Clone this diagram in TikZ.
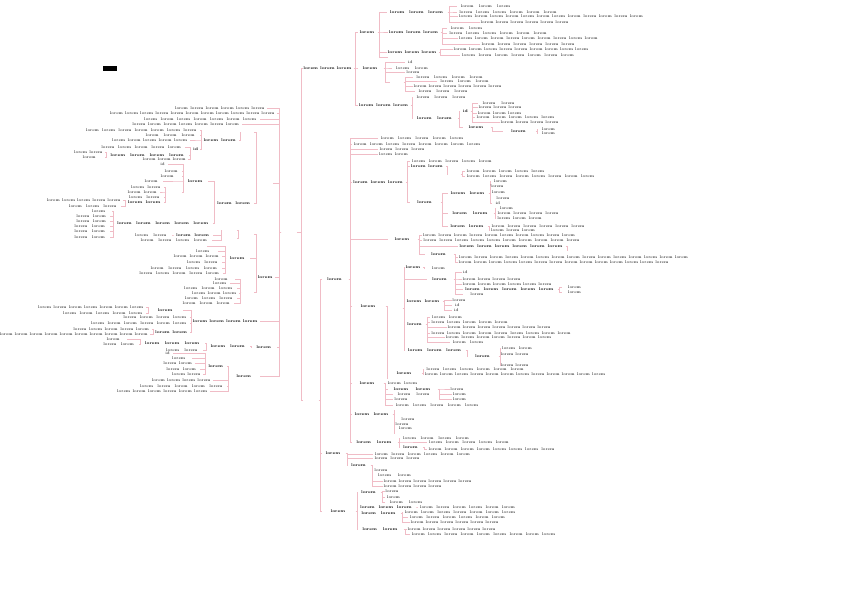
\documentclass[tikz,border=0pt]{standalone}
\usepackage{fontspec}
\definecolor{conc}{RGB}{240,188,198}
\newcounter{nc}
\newcommand\fillertext[1]{\ifdim#1pt<12pt\hbox to #1pt{\hss id\hss}\else\hbox to #1pt{\xleaders\hbox{lorem\ }\hfill}\fi}
\tikzset{
  tx/.style={inner sep=0.2pt, font=\fontsize{3.9}{4}\selectfont, text=black},
  lb/.style={inner sep=0.2pt, font=\fontsize{3.9}{4}\selectfont\bfseries, text=black},
  con/.style={draw=conc, line width=0.3pt}
}
\newcommand\lfR[4]{\stepcounter{nc}\edef\curnn{n\arabic{nc}}\node[tx,anchor=west] (\curnn) at (#2,-#3) {\fillertext{#4}};\draw[con] (#1.east) -- ++(1.5,0) |- (\curnn.west);}
\newcommand\lfL[4]{\stepcounter{nc}\edef\curnn{n\arabic{nc}}\node[tx,anchor=east] (\curnn) at (#2,-#3) {\fillertext{#4}};\draw[con] (#1.west) -- ++(-1.5,0) |- (\curnn.east);}
\newcommand\lbR[5]{\node[lb,anchor=west] (#1) at (#3,-#4) {\fillertext{#5}};\draw[con] (#2.east) -- ++(1.5,0) |- (#1.west);}
\newcommand\lbL[5]{\node[lb,anchor=east] (#1) at (#3,-#4) {\fillertext{#5}};\draw[con] (#2.west) -- ++(-1.5,0) |- (#1.east);}
\begin{document}
\begin{tikzpicture}[x=1pt,y=1pt]
\useasboundingbox (0,0) rectangle (848,-599);
\node[fill=black,inner sep=0pt,minimum width=14pt,minimum height=5pt] (ttl) at (110,-68.5) {};
\node[lb,anchor=west] (R) at (281,-232) {\fillertext{15}};
% ---------- right side ----------
\node[lb,anchor=west] (T1) at (303,-68) {\fillertext{50}};
\node[lb,anchor=west] (LN) at (303,-400) {\fillertext{15}};
\draw[con] (R.east) -- ++(4,0) |- (T1.west);
\draw[con] (R.east) -- ++(4,0) |- (LN.west);
\lbR{S1}{T1}{358}{32}{19}
\lbR{S2}{T1}{358}{68}{25}
\lbR{S3}{T1}{358}{105}{52}
\lbR{SA}{S1}{387}{12}{60}
\lbR{SB}{S1}{388}{32}{52}
\lbR{SC}{S1}{387}{52}{51}
\lfR{S1}{388}{57}{12}
\lfR{SA}{457}{6}{58}
\lfR{SA}{457}{12}{103}
\lfR{SA}{458}{16}{187}
\lfR{SA}{480}{22}{90}
\lfR{SB}{447}{28}{40}
\lfR{SB}{447}{33}{103}
\lfR{SB}{458}{38}{142}
\lfR{SB}{480}{44}{97}
\lfR{SC}{453}{49}{137}
\lfR{SC}{460}{55}{117}
\lfR{S2}{405}{62}{10}
\lfR{S2}{392}{68}{41}
\lfR{S2}{405}{72}{17}
\lbR{IX}{S2}{390}{82}{13}
\lfR{IX}{413}{77}{74}
\lfR{IX}{437}{81}{56}
\lfR{IX}{413}{86}{90}
\lfR{IX}{415}{91}{57}
\lfR{S3}{413}{97}{57}
\lbR{W}{S3}{413}{118}{44}
\lbR{X}{W}{460}{111}{10}
\lbR{Y}{W}{463}{127}{27}
\lfR{X}{478}{103}{42}
\lfR{X}{478}{107}{45}
\lfR{X}{477}{113}{46}
\lfR{X}{475}{117}{82}
\lfR{X}{500}{122}{60}
\lbR{Z}{Y}{503}{131}{32}
\lfR{Z}{538}{129}{22}
\lfR{Z}{538}{133}{22}
\lbR{M}{LN}{322}{279}{26}
\lbR{G1}{LN}{322}{453}{23}
\lbR{G2}{LN}{322}{511}{33}
\lfR{M}{378}{138}{89}
\lfR{M}{352}{144}{131}
\lfR{M}{378}{149}{49}
\lfR{M}{378}{154}{32}
\lbR{AU}{M}{352}{182}{53}
\lbR{OP}{M}{388}{239}{29}
\lbR{TR}{M}{352}{306}{33}
\lbR{LB}{M}{352}{383}{31}
\lbR{PR}{M}{352}{414}{40}
\lbR{PQ}{M}{352}{442}{45}
\lfR{AU}{410}{161}{85}
\lbR{A2}{AU}{410}{166}{35}
\lbR{IN}{AU}{410}{202}{30}
\lbR{PX}{A2}{448}{174}{12}
\lfR{PX}{465}{171}{82}
\lfR{PX}{465}{176}{132}
\lbR{I1}{IN}{448}{193}{40}
\lbR{I2}{IN}{448}{213}{45}
\lbR{I3}{IN}{448}{226}{39}
\lfR{I1}{490}{181}{22}
\lfR{I1}{490}{186}{15}
\lfR{I1}{490}{192}{18}
\lfR{I1}{490}{198}{27}
\lfR{I1}{492}{203}{11}
\lfR{I2}{496}{208}{22}
\lfR{I2}{496}{213}{65}
\lfR{I2}{496}{218}{48}
\lfR{I3}{490}{226}{97}
\lfR{I3}{490}{230}{47}
\lfR{OP}{422}{235}{155}
\lfR{OP}{422}{240}{160}
\lbR{O3}{OP}{458}{246}{107}
\lbR{OL}{OP}{425}{254}{28}
\lfR{O3}{568}{250}{13}
\lfR{OL}{458}{257}{232}
\lfR{OL}{458}{262}{212}
\lbR{G}{TR}{388}{308}{14}
\lbR{WR}{TR}{388}{373}{33}
\lfR{TR}{388}{378}{14}
\lbR{TA}{G}{405}{267}{17}
\lbR{TB}{G}{427}{279}{26}
\lbR{TC}{G}{405}{301}{37}
\lbR{DE}{G}{405}{324}{20}
\lbR{TE}{G}{405}{350}{60}
\lfR{TA}{425}{268}{28}
\lfR{TB}{462}{272}{6}
\lfR{TB}{462}{279}{60}
\lfR{TB}{462}{284}{91}
\lbR{TB4}{TB}{463}{289}{94}
\lfR{TB}{463}{294}{29}
\lfR{TB4}{562}{287}{26}
\lfR{TB4}{562}{292}{26}
\lfR{TC}{452}{300}{15}
\lfR{TC}{452}{305}{10}
\lfR{TC}{452}{310}{8}
\lfR{DE}{430}{317}{35}
\lfR{DE}{430}{322}{80}
\lfR{DE}{447}{327}{105}
\lfR{DE}{430}{333}{143}
\lfR{DE}{445}{337}{108}
\lfR{DE}{450}{342}{37}
\lbR{TE1}{TE}{468}{356}{30}
\lfR{TE1}{500}{348}{35}
\lfR{TE1}{500}{354}{30}
\lfR{TE1}{500}{360}{13}
\lfR{TE1}{500}{365}{30}
\lfR{WR}{424}{369}{103}
\lfR{WR}{424}{374}{183}
\lfR{LB}{386}{383}{34}
\lbR{LB2}{LB}{388}{389}{49}
\lfR{LB}{393}{394}{42}
\lfR{LB}{393}{399}{17}
\lfR{LB}{393}{405}{89}
\lfR{LB2}{450}{389}{15}
\lfR{LB2}{452}{394}{16}
\lfR{LB2}{452}{399}{16}
\lfR{PR}{395}{410}{14}
\lfR{PR}{395}{414}{14}
\lfR{PR}{395}{419}{27}
\lfR{PR}{395}{424}{15}
\lfR{PR}{395}{428}{22}
\lfR{PR}{395}{433}{12}
\lfR{PQ}{400}{438}{73}
\lfR{PQ}{427}{442}{85}
\lbR{PQ3}{PQ}{400}{447}{22}
\lfR{PQ3}{427}{449}{130}
\lfR{G1}{373}{454}{100}
\lfR{G1}{373}{458}{49}
\lbR{GB}{G1}{348}{465}{22}
\lfR{GB}{373}{465}{12}
\lfR{GB}{373}{470}{17}
\lfR{GB}{373}{475}{44}
\lfR{GB}{383}{481}{90}
\lfR{GB}{383}{486}{60}
\lbR{GM1}{G2}{358}{492}{22}
\lbR{GM5}{G2}{358}{507}{57}
\lbR{GM2}{G2}{358}{513}{42}
\lbR{GM3}{G2}{358}{529}{45}
\lfR{GM1}{385}{491}{15}
\lfR{GM1}{385}{497}{18}
\lfR{GM1}{385}{502}{43}
\lfR{GM5}{418}{507}{100}
\lfR{GM2}{403}{512}{115}
\lfR{GM2}{408}{517}{100}
\lfR{GM2}{410}{522}{90}
\lfR{GM3}{407}{529}{90}
\lfR{GM3}{410}{534}{148}
% ---------- left side ----------
\lfL{R}{267}{108}{92}
\lfL{R}{277}{113}{167}
\lfL{R}{260}{119}{117}
\lfL{R}{242}{124}{110}
\lbL{L1}{R}{273}{183}{15}
\lbL{L2}{R}{275}{277}{17}
\lbL{L321}{R}{260}{321}{67}
\lbL{UE}{R}{277}{347}{24}
\lbL{K376}{R}{260}{376}{30}
\lbL{LTE}{L1}{254}{132}{12}
\lbL{NA}{L1}{254}{203}{38}
\lbL{PRI}{LTE}{239}{140}{36}
\lfL{PRI}{200}{130}{115}
\lfL{PRI}{200}{135}{57}
\lfL{PRI}{190}{140}{78}
\lbL{PEL}{PRI}{200}{149}{8}
\lfL{PEL}{185}{147}{85}
\lbL{P2}{PEL}{189}{155}{81}
\lfL{PEL}{188}{159}{45}
\lfL{P2}{105}{152}{31}
\lfL{P2}{105}{157}{29}
\lbL{TUE}{NA}{208}{181}{23}
\lbL{LONG}{NA}{213}{223}{98}
\lfL{TUE}{168}{164}{10}
\lfL{TUE}{182}{171}{19}
\lfL{TUE}{182}{176}{27}
\lfL{TUE}{163}{181}{21}
\lbL{TU2}{TUE}{182}{192}{15}
\lfL{TU2}{164}{187}{34}
\lfL{TU2}{160}{192}{33}
\lfL{TU2}{164}{197}{37}
\lbL{T202}{TU2}{164}{202}{37}
\lfL{T202}{123}{200}{76}
\lfL{T202}{121}{206}{54}
\lfL{LONG}{112}{211}{24}
\lfL{LONG}{110}{216}{35}
\lfL{LONG}{110}{221}{35}
\lfL{LONG}{110}{226}{38}
\lfL{LONG}{110}{231}{38}
\lfL{LONG}{110}{237}{38}
\lbL{TUMD}{L2}{254}{234}{14}
\lbL{SUP}{L2}{250}{258}{23}
\lbL{L292}{L2}{254}{292}{12}
\lbL{T230}{TUMD}{237}{230}{14}
\lfL{TUMD}{237}{238}{14}
\lbL{EX2}{T230}{213}{235}{38}
\lfL{T230}{212}{240}{74}
\lfL{EX2}{172}{235}{40}
\lfL{SUP}{207}{246}{14}
\lfL{SUP}{218}{251}{28}
\lfL{SUP}{222}{256}{49}
\lfL{SUP}{222}{262}{37}
\lfL{SUP}{222}{268}{74}
\lfL{SUP}{223}{273}{85}
\lfL{L292}{235}{279}{25}
\lfL{L292}{230}{283}{18}
\lfL{L292}{237}{288}{55}
\lfL{L292}{239}{293}{47}
\lfL{L292}{237}{298}{54}
\lfL{L292}{234}{303}{53}
\lbL{L310}{L321}{183}{310}{33}
\lfL{L321}{190}{317}{68}
\lfL{L321}{190}{323}{100}
\lbL{L332}{L321}{190}{332}{35}
\lfL{L310}{146}{307}{108}
\lfL{L310}{146}{313}{84}
\lfL{L332}{152}{329}{79}
\lfL{L332}{150}{334}{150}
\lbL{K346}{UE}{250}{346}{42}
\lbL{K343}{K346}{205}{343}{63}
\lfL{K346}{203}{350}{40}
\lfL{K343}{139}{344}{38}
\lfL{K343}{127}{339}{25}
\lbL{K366}{K376}{227}{366}{20}
\lfL{K376}{213}{380}{61}
\lfL{K376}{227}{386}{89}
\lfL{K376}{210}{391}{93}
\lfL{K366}{173}{353}{10}
\lfL{K366}{192}{358}{24}
\lfL{K366}{195}{363}{32}
\lfL{K366}{200}{369}{35}
\lfL{K366}{203}{374}{31}
\end{tikzpicture}
\end{document}
